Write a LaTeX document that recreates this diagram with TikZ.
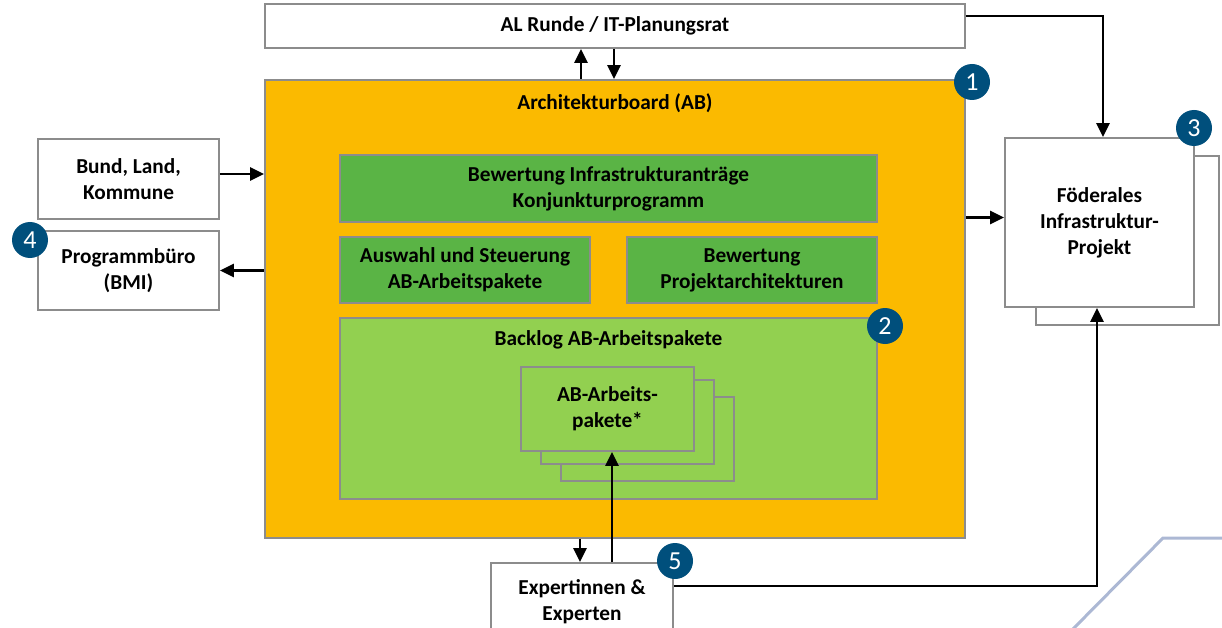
\documentclass[tikz,border=0pt]{standalone}
\usepackage{fontspec}
\setmainfont{Carlito}
\usetikzlibrary{arrows.meta,calc}
\definecolor{abor}{HTML}{FBBA00}
\definecolor{gdark}{HTML}{5AB445}
\definecolor{glight}{HTML}{92D050}
\definecolor{bord}{HTML}{8C8C8C}
\definecolor{badgeblue}{HTML}{004F7C}
\definecolor{deco}{RGB}{172,184,212}
\begin{document}
\begin{tikzpicture}[x=1pt,y=-1pt,
  box/.style={draw=bord,line width=1.8pt,fill=white,inner sep=0pt,align=center,
    font=\fontsize{21.3}{26}\selectfont\bfseries},
  gbox/.style={box,fill=gdark},
  lbox/.style={box,fill=glight},
  badge/.style={circle,fill=badgeblue,text=white,inner sep=0pt,minimum size=36pt,
    font=\fontsize{26}{26}\selectfont},
  title/.style={inner sep=0pt,font=\fontsize{21.3}{26}\selectfont\bfseries},
  arr/.style={line width=2.6pt,-{Triangle[length=14pt,width=13pt]}},
  ln/.style={line width=2.6pt}]
\useasboundingbox (0,0) rectangle (1222,628);
% decoration
\draw[deco,line width=3pt] (1072,630) -- (1163,538) -- (1224,538);
% top
\node[box,minimum width=700pt,minimum height=44pt] (al) at (615,26) {AL Runde / IT-Planungsrat};
% Architekturboard
\node[box,fill=abor,minimum width=700pt,minimum height=458pt] (ab) at (615,309) {};
\node[title] (abt) at (615,103) {Architekturboard (AB)};
\node[gbox,minimum width=537pt,minimum height=67pt] (g1) at (608.5,188.5) {Bewertung Infrastrukturanträge\\Konjunkturprogramm};
\node[gbox,minimum width=250pt,minimum height=66pt] (g2) at (465,270) {Auswahl und Steuerung\\AB-Arbeitspakete};
\node[gbox,minimum width=250pt,minimum height=66pt] (g3) at (752,270) {Bewertung\\Projektarchitekturen};
\node[lbox,minimum width=537pt,minimum height=181pt] (bl) at (608.5,408.5) {};
\node[title] (blt) at (608.5,340) {Backlog AB-Arbeitspakete};
\node[lbox,minimum width=173pt,minimum height=84pt] (p3) at (647.5,439) {};
\node[lbox,minimum width=173pt,minimum height=84pt] (p2) at (627.5,422) {};
\node[lbox,minimum width=173pt,minimum height=84pt] (p1) at (607.5,409) {AB-Arbeits-\\pakete*};
% left
\node[box,minimum width=181pt,minimum height=80pt] (bund) at (128.5,179) {Bund, Land,\\Kommune};
\node[box,minimum width=181pt,minimum height=79pt] (prog) at (128.5,270.5) {Programmbüro\\(BMI)};
% right
\node[box,minimum width=183pt,minimum height=169pt] (fedb) at (1127.5,240.5) {};
\node[box,minimum width=189pt,minimum height=169pt] (fed) at (1099.5,222.5) {Föderales\\Infrastruktur-\\Projekt};
% bottom
\node[box,minimum width=182pt,minimum height=77pt] (exp) at (582,601.5) {Expertinnen \&\\Experten};
% badges
\node[badge] (b1) at (972,82) {1};
\node[badge] (b2) at (885,326) {2};
\node[badge] (b3) at (1194,128) {3};
\node[badge] (b4) at (30,240) {4};
\node[badge] (b5) at (675,561) {5};
% connectors
\coordinate (c1) at (581,0);
\coordinate (c2) at (614,0);
\coordinate (c3) at (580,0);
\coordinate (c4) at (612,0);
\coordinate (c5) at (0,586);
\draw[arr] (c1 |- ab.north) -- (c1 |- al.south);
\draw[arr] (c2 |- al.south) -- (c2 |- ab.north);
\draw[arr] ([yshift=5pt]bund.east) -- ([yshift=5pt]ab.west |- bund.east);
\draw[arr] (ab.west |- prog.east) -- (prog.east);
\draw[arr] ([yshift=5pt]ab.east |- fed.west) -- ([yshift=5pt]fed.west);
\draw[arr] ([yshift=10pt]al.east) -| ([xshift=3.5pt]fed.north);
\draw[arr] (c3 |- ab.south) -- (c3 |- exp.north);
\draw[arr] (c4 |- exp.north) -- (c4 |- p1.south);
\draw[arr] (exp.east |- c5) -| ([xshift=-2.5pt]fed.south);
\end{tikzpicture}
\end{document}
